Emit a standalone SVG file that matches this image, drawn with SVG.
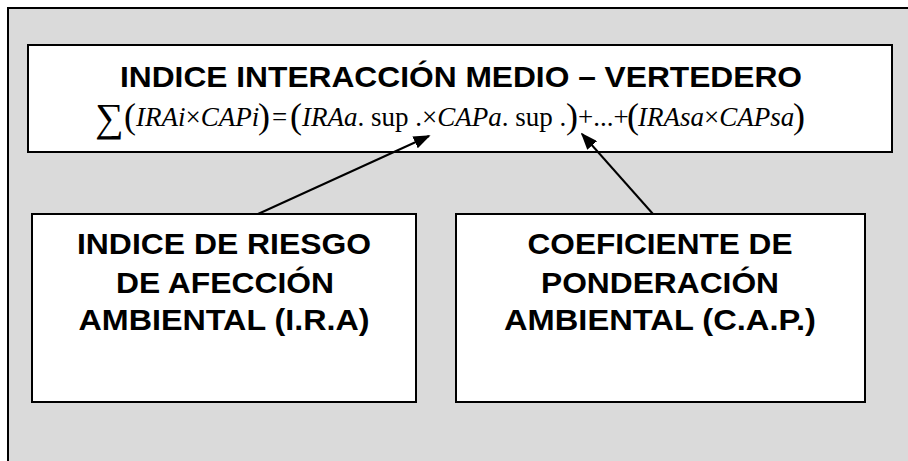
<svg xmlns="http://www.w3.org/2000/svg" width="908" height="461" viewBox="0 0 908 461">
<style>
.box{fill:#ffffff;stroke:#000000;stroke-width:2}
.lbl{font-family:"Liberation Sans",Arial,sans-serif;font-weight:bold;font-size:30px;fill:#000;text-anchor:middle}
.f{font-family:"Liberation Serif","Times New Roman",serif;font-size:27px;fill:#000}
.it{font-style:italic}
.par{font-size:36px}
.con{stroke:#000;stroke-width:2;fill:none}
</style>
<defs>
<marker id="ah" viewBox="0 0 10 10" refX="9" refY="5" markerWidth="17" markerHeight="13" markerUnits="userSpaceOnUse" orient="auto" preserveAspectRatio="none">
<path d="M0,0 L10,5 L0,10 z" fill="#000"/>
</marker>
</defs>
<rect x="8" y="8" width="900" height="453" fill="#dadada"/>
<path d="M8,461 V8 H908" fill="none" stroke="#000" stroke-width="2"/>

<g id="node-indice">
<rect class="box" x="28" y="45" width="864" height="107"/>
<text class="lbl" x="461" y="87" textLength="682" lengthAdjust="spacingAndGlyphs">INDICE INTERACCIÓN MEDIO – VERTEDERO</text>
<text class="f" y="126"><tspan x="95" y="131" style="font-size:40px">∑</tspan><tspan class="par" x="124" y="128">(</tspan><tspan class="it" x="136" y="126">IRAi</tspan><tspan>×</tspan><tspan class="it">CAPi</tspan><tspan class="par" x="258" y="128">)</tspan><tspan x="272" y="126">=</tspan><tspan class="par" x="290" y="128">(</tspan><tspan class="it" x="302" y="126">IRAa</tspan><tspan>. sup .×</tspan><tspan class="it">CAPa</tspan><tspan>. sup .</tspan><tspan class="par" x="566" y="128">)</tspan><tspan x="578" y="126">+...+</tspan><tspan class="par" x="627" y="128">(</tspan><tspan class="it" x="638" y="126">IRAsa</tspan><tspan>×</tspan><tspan class="it">CAPsa</tspan><tspan class="par" x="793" y="128">)</tspan></text>
</g>

<g id="node-ira">
<rect class="box" x="32" y="214" width="384" height="188"/>
<text class="lbl" x="224" y="254" textLength="294" lengthAdjust="spacingAndGlyphs">INDICE DE RIESGO</text>
<text class="lbl" x="225" y="293" textLength="218" lengthAdjust="spacingAndGlyphs">DE AFECCIÓN</text>
<text class="lbl" x="224" y="330" textLength="291" lengthAdjust="spacingAndGlyphs">AMBIENTAL (I.R.A)</text>
</g>

<g id="node-cap">
<rect class="box" x="456" y="214" width="409" height="188"/>
<text class="lbl" x="660" y="254" textLength="265" lengthAdjust="spacingAndGlyphs">COEFICIENTE DE</text>
<text class="lbl" x="660" y="293" textLength="238" lengthAdjust="spacingAndGlyphs">PONDERACIÓN</text>
<text class="lbl" x="660" y="330" textLength="312" lengthAdjust="spacingAndGlyphs">AMBIENTAL (C.A.P.)</text>
</g>

<g id="connectors">
<line class="con" x1="258" y1="214" x2="429" y2="136" marker-end="url(#ah)"/>
<line class="con" x1="653" y1="214" x2="582" y2="134" marker-end="url(#ah)"/>
</g>
</svg>
